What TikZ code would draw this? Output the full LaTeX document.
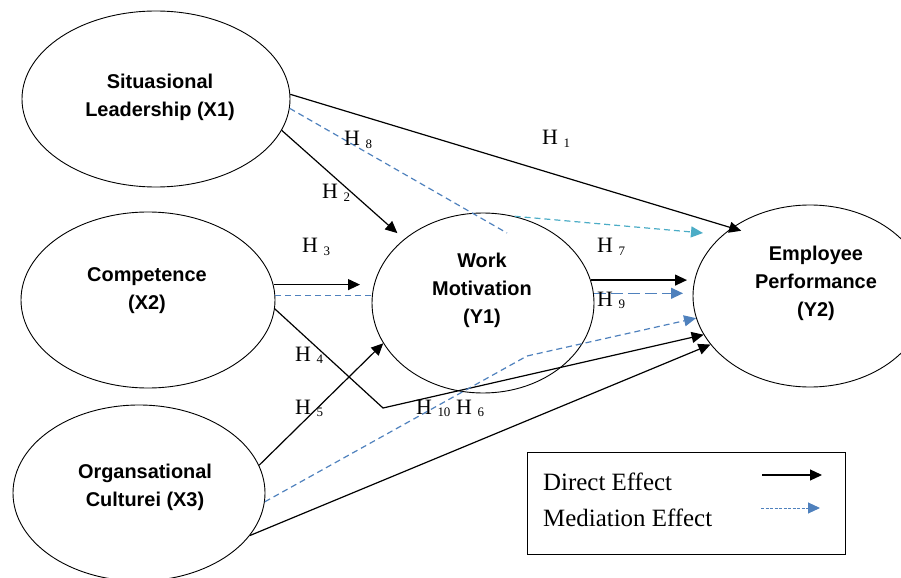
\documentclass[tikz,border=0pt]{standalone}
\usepackage{fontspec}
\setmainfont{Liberation Serif}
\setsansfont{Liberation Sans}
\usetikzlibrary{arrows.meta,positioning,calc,shapes.geometric}

\definecolor{medblue}{RGB}{79,129,189}
\definecolor{medcyan}{RGB}{75,172,198}
\newcommand{\hyp}[1]{H {\fontsize{13}{13}\selectfont\raisebox{-2.5bp}{#1}}}

\begin{document}
\begin{tikzpicture}[x=1bp, y=-1bp,
      latent/.style={draw, ellipse, line width=0.9bp, inner sep=0pt},
      ltext/.style={align=center, inner sep=0pt, font=\sffamily\bfseries\fontsize{20}{28}\selectfont},
      hlab/.style={anchor=base west, inner sep=0pt, font=\fontsize{22}{22}\selectfont},
      lgtext/.style={anchor=base west, inner sep=0pt, font=\fontsize{25}{25}\selectfont},
      tip/.style={-{Triangle[length=12bp,width=11bp]}},
      arr/.style={tip, line width=1.2bp},
      med/.style={medblue, dash pattern=on 6bp off 4bp, line width=1.2bp},
      meda/.style={med, tip}
    ]
    \useasboundingbox (0,0) rectangle (901,578);
    \node[latent, minimum width=268bp, minimum height=176bp] (x1) at (156,99)  {};
    \node[latent, minimum width=254bp, minimum height=176bp] (x2) at (148,300) {};
    \node[latent, minimum width=252bp, minimum height=176bp] (x3) at (139,493) {};
    \node[latent, minimum width=222bp, minimum height=180bp] (wm) at (483,303) {};
    \node[latent, minimum width=234bp, minimum height=182bp] (ep) at (810,296) {};
    \node[ltext] (x1t) at (160,97)  {Situasional\\Leadership (X1)};
    \node[ltext] (x2t) at (147,291) {Competence\\(X2)};
    \node[ltext] (x3t) at (145,487) {Organsational\\Culturei (X3)};
    \node[ltext] (wmt) at (482,290) {Work\\Motivation\\(Y1)};
    \node[ltext] (ept) at (816,283) {Employee\\Performance\\(Y2)};
    \coordinate (h8end)  at (507,233);
    \coordinate (cyend)  at (703,233);
    \coordinate (h3tip)  at (360,285);
    \coordinate (h7tip)  at (687,279);
    \coordinate (h9tip)  at (683,293);
    \coordinate (h4bend) at (383,408);
    \coordinate (h10bend) at (527,356);
    \draw[arr, shorten >=-10bp] (x1.2) -- (ep.139);
    \draw[med] (x1.-4) -- (h8end);
    \draw[meda, medcyan] (wm.70) -- (cyend);
    \draw[arr, shorten >=9bp] (x1.-14) -- (wm.141);
    \draw[arr] (x2.7) -- (x2.7 -| h3tip);
    \draw[med] (x2.2) -- (x2.2 -| wm.west);
    \draw[arr] (wm.12) -- (wm.12 -| h7tip);
    \draw[meda, dash pattern=on 12bp off 5bp] (wm.5) -- (wm.5 -| h9tip);
    \draw[arr] (x2.-4) -- (h4bend) -- (ep.200);
    \draw[meda] (x3.-4) -- (h10bend) -- (ep.191);
    \draw[arr] (x3.13) -- (wm.202);
    \draw[arr] (x3.-21) -- (ep.206);
    \node[hlab] (h1)  at (542,145) {\hyp{1}};
    \node[hlab] (h8)  at (344,146) {\hyp{8}};
    \node[hlab] (h2)  at (322,199) {\hyp{2}};
    \node[hlab] (h3)  at (302,253) {\hyp{3}};
    \node[hlab] (h7)  at (597,253) {\hyp{7}};
    \node[hlab] (h9)  at (597,306) {\hyp{9}};
    \node[hlab] (h4)  at (295,361) {\hyp{4}};
    \node[hlab] (h5)  at (295,414) {\hyp{5}};
    \node[hlab] (h10) at (416,414) {\hyp{10}};
    \node[hlab] (h6)  at (456,414) {\hyp{6}};
    \node[draw, line width=1bp, minimum width=318bp, minimum height=102bp, inner sep=0pt] (legend) at (686,503) {};
    \node[lgtext] (ldir) at (543,490) {Direct Effect};
    \node[lgtext] (lmed) at (543,526) {Mediation Effect};
    \coordinate (lda) at (762,475);
    \coordinate (ldb) at (822,475);
    \coordinate (lma) at (761,508);
    \coordinate (lmb) at (820,508);
    \draw[arr] (lda) -- (ldb);
    \draw[medblue, tip, dash pattern=on 3bp off 1.5bp, line width=1bp] (lma) -- (lmb);
  \end{tikzpicture}
\end{document}
